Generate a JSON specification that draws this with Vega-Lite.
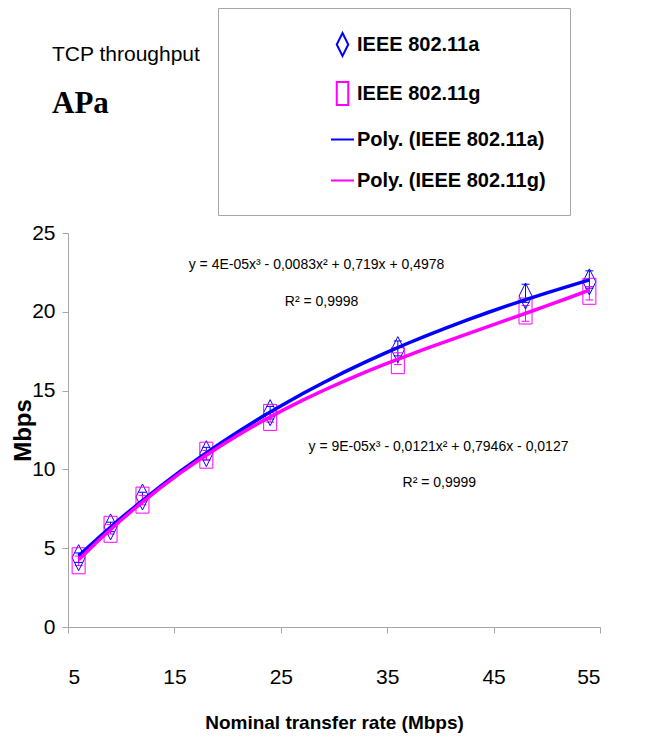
{
  "$schema": "https://vega.github.io/schema/vega-lite/v6.json",
  "width": 532,
  "height": 394,
  "autosize": {"type": "none"},
  "padding": {"left": 68, "top": 233, "right": 45, "bottom": 120},
  "background": "white",
  "config": {
    "view": {"stroke": null},
    "font": "Liberation Sans",
    "axis": {"grid": false, "domainColor": "#a6a6a6", "tickColor": "#a6a6a6", "tickSize": 6, "labelColor": "black", "titleColor": "black", "labelFont": "Liberation Sans", "labelFontSize": 21},
    "legend": {
      "title": null,
      "orient": "none",
      "legendX": 150,
      "legendY": -225,
      "padding": 24,
      "strokeColor": "#a6a6a6",
      "symbolSize": 529,
      "symbolOffset": 88,
      "symbolStrokeWidth": 2,
      "labelOffset": 2,
      "rowPadding": 18,
      "labelFont": "Liberation Sans",
      "labelFontSize": 20,
      "labelFontWeight": "bold",
      "labelColor": "black",
      "labelLimit": 800
    }
  },
  "title": {
    "text": "TCP throughput",
    "subtitle": "APa",
    "anchor": "start",
    "frame": "group",
    "dx": -16,
    "offset": -111,
    "font": "Liberation Sans",
    "fontSize": 21,
    "fontWeight": "normal",
    "color": "black",
    "subtitleFont": "Liberation Serif",
    "subtitleFontSize": 31,
    "subtitleFontWeight": "bold",
    "subtitleColor": "black",
    "subtitlePadding": 24
  },
  "data": {
    "values": [
      {"series": "IEEE 802.11a", "trend": "Poly. (IEEE 802.11a)", "x": 6, "y": 4.4, "lo": 4.1, "hi": 4.7},
      {"series": "IEEE 802.11a", "trend": "Poly. (IEEE 802.11a)", "x": 9, "y": 6.35, "lo": 6.05, "hi": 6.65},
      {"series": "IEEE 802.11a", "trend": "Poly. (IEEE 802.11a)", "x": 12, "y": 8.25, "lo": 7.95, "hi": 8.55},
      {"series": "IEEE 802.11a", "trend": "Poly. (IEEE 802.11a)", "x": 18, "y": 11.0, "lo": 10.6, "hi": 11.4},
      {"series": "IEEE 802.11a", "trend": "Poly. (IEEE 802.11a)", "x": 24, "y": 13.6, "lo": 13.2, "hi": 14.0},
      {"series": "IEEE 802.11a", "trend": "Poly. (IEEE 802.11a)", "x": 36, "y": 17.6, "lo": 17.2, "hi": 18.15},
      {"series": "IEEE 802.11a", "trend": "Poly. (IEEE 802.11a)", "x": 48, "y": 21.0, "lo": 20.6, "hi": 21.75},
      {"series": "IEEE 802.11a", "trend": "Poly. (IEEE 802.11a)", "x": 54, "y": 21.9, "lo": 21.5, "hi": 22.6},
      {"series": "IEEE 802.11g", "trend": "Poly. (IEEE 802.11g)", "x": 6, "y": 4.2, "lo": 3.9, "hi": 4.5},
      {"series": "IEEE 802.11g", "trend": "Poly. (IEEE 802.11g)", "x": 9, "y": 6.2, "lo": 5.9, "hi": 6.5},
      {"series": "IEEE 802.11g", "trend": "Poly. (IEEE 802.11g)", "x": 12, "y": 8.05, "lo": 7.75, "hi": 8.35},
      {"series": "IEEE 802.11g", "trend": "Poly. (IEEE 802.11g)", "x": 18, "y": 10.9, "lo": 10.6, "hi": 11.2},
      {"series": "IEEE 802.11g", "trend": "Poly. (IEEE 802.11g)", "x": 24, "y": 13.3, "lo": 13.0, "hi": 13.6},
      {"series": "IEEE 802.11g", "trend": "Poly. (IEEE 802.11g)", "x": 36, "y": 16.9, "lo": 16.65, "hi": 17.4},
      {"series": "IEEE 802.11g", "trend": "Poly. (IEEE 802.11g)", "x": 48, "y": 20.05, "lo": 19.4, "hi": 20.4},
      {"series": "IEEE 802.11g", "trend": "Poly. (IEEE 802.11g)", "x": 54, "y": 21.3, "lo": 20.75, "hi": 21.6}
    ]
  },
  "layer": [
    {
      "mark": {"type": "rule", "strokeWidth": 1},
      "encoding": {
        "x": {"field": "x", "type": "quantitative", "scale": {"domain": [5, 55], "nice": false, "zero": false},
          "axis": {"values": [5, 15, 25, 35, 45, 55], "labelPadding": 33, "title": "Nominal transfer rate (Mbps)", "titleFont": "Liberation Sans", "titleFontSize": 19, "titleFontWeight": "bold", "titlePadding": 26}},
        "y": {"field": "lo", "type": "quantitative", "scale": {"domain": [0, 25], "nice": false},
          "axis": {"values": [0, 5, 10, 15, 20, 25], "labelPadding": 7, "title": "Mbps", "titleFont": "Liberation Sans", "titleFontSize": 24, "titleFontWeight": "bold", "titlePadding": -4}},
        "y2": {"field": "hi"},
        "color": {"field": "series", "type": "nominal",
          "scale": {"domain": ["IEEE 802.11a", "IEEE 802.11g", "Poly. (IEEE 802.11a)", "Poly. (IEEE 802.11g)"], "range": ["#0000FF", "#FF00FF", "#0000FF", "#FF00FF"]}}
      }
    },
    {
      "mark": {"type": "point", "filled": false, "shape": "M-1,0H1", "size": 64, "strokeWidth": 1, "opacity": 1},
      "encoding": {
        "x": {"field": "x", "type": "quantitative"},
        "y": {"field": "lo", "type": "quantitative"},
        "color": {"field": "series", "type": "nominal"}
      }
    },
    {
      "mark": {"type": "point", "filled": false, "shape": "M-1,0H1", "size": 64, "strokeWidth": 1, "opacity": 1},
      "encoding": {
        "x": {"field": "x", "type": "quantitative"},
        "y": {"field": "hi", "type": "quantitative"},
        "color": {"field": "series", "type": "nominal"}
      }
    },
    {
      "mark": {"type": "point", "filled": false, "size": 676, "strokeWidth": 1, "opacity": 1},
      "encoding": {
        "x": {"field": "x", "type": "quantitative"},
        "y": {"field": "y", "type": "quantitative"},
        "color": {"field": "series", "type": "nominal",
          "legend": {"labelExpr": "datum.label + '\u00a0\u00a0\u00a0\u00a0\u00a0\u00a0\u00a0\u00a0\u00a0\u00a0\u00a0\u00a0\u00a0\u00a0\u00a0\u00a0\u00a0\u00a0\u00a0\u00a0\u00a0\u00a0\u00a0\u00a0\u00a0\u00a0\u00a0\u00a0\u00a0\u00a0'"}},
        "shape": {"field": "series", "type": "nominal",
          "scale": {"domain": ["IEEE 802.11a", "IEEE 802.11g", "Poly. (IEEE 802.11a)", "Poly. (IEEE 802.11g)"],
            "range": ["M0,-1L0.5,0L0,1L-0.5,0Z", "M-0.5,-1H0.5V1H-0.5Z", "M-1,0H1", "M-1,0H1"]}}
      }
    },
    {
      "transform": [
        {"regression": "y", "on": "x", "groupby": ["trend"], "method": "poly", "order": 3, "extent": [6, 54]}
      ],
      "mark": {"type": "line", "strokeWidth": 3.5},
      "encoding": {
        "x": {"field": "x", "type": "quantitative"},
        "y": {"field": "y", "type": "quantitative"},
        "color": {"field": "trend", "type": "nominal"}
      }
    },
    {
      "data": {
        "values": [
          {"label": "y = 4E-05x³ - 0,0083x² + 0,719x + 0,4978", "tx": 28.36, "ty": 22.97},
          {"label": "R² = 0,9998", "tx": 28.83, "ty": 20.62},
          {"label": "y = 9E-05x³ - 0,0121x² + 0,7946x - 0,0127", "tx": 39.82, "ty": 11.42},
          {"label": "R² = 0,9999", "tx": 39.9, "ty": 9.14}
        ]
      },
      "mark": {"type": "text", "font": "Liberation Sans", "fontSize": 14, "color": "black", "align": "center", "baseline": "middle"},
      "encoding": {
        "x": {"field": "tx", "type": "quantitative"},
        "y": {"field": "ty", "type": "quantitative"},
        "text": {"field": "label", "type": "nominal"}
      }
    }
  ]
}
